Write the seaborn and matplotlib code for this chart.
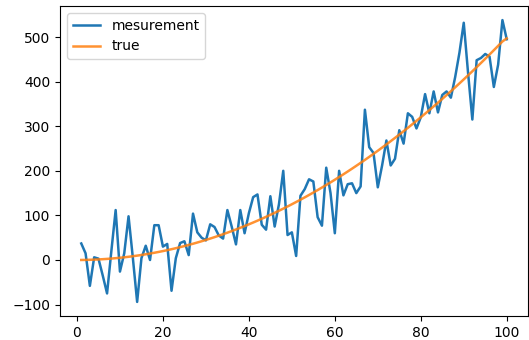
import matplotlib
matplotlib.use("Agg")
import matplotlib.pyplot as plt
import seaborn as sns
import numpy as np

x_vals = list(range(1, 101))

measurement = [
    37, 15, -58, 6, 3, -35, -75, 20, 112, -26,
    15, 98, 5, -94, 4, 32, 0, 78, 78, 30,
    36, -69, 4, 38, 42, 11, 104, 62, 50, 44,
    80, 74, 55, 48, 112, 75, 35, 112, 60, 105,
    141, 147, 79, 68, 143, 75, 125, 200, 56, 62,
    9, 144, 159, 181, 176, 96, 77, 207, 150, 60,
    200, 145, 170, 172, 150, 165, 337, 253, 240, 163,
    212, 268, 212, 227, 291, 261, 329, 321, 295, 320,
    372, 329, 378, 331, 370, 378, 364, 410, 465, 532,
    420, 315, 448, 453, 462, 456, 388, 438, 538, 495,
]

true_vals = [
    0.05, 0.2, 0.45, 0.8, 1.25, 1.8, 2.45, 3.2, 4.05, 5.0,
    6.05, 7.2, 8.45, 9.8, 11.25, 12.8, 14.45, 16.2, 18.05, 20.0,
    22.05, 24.2, 26.45, 28.8, 31.25, 33.8, 36.45, 39.2, 42.05, 45.0,
    48.05, 51.2, 54.45, 57.8, 61.25, 64.8, 68.45, 72.2, 76.05, 80.0,
    84.05, 88.2, 92.45, 96.8, 101.25, 105.8, 110.45, 115.2, 120.05, 125.0,
    130.05, 135.2, 140.45, 145.8, 151.25, 156.8, 162.45, 168.2, 174.05, 180.0,
    186.05, 192.2, 198.45, 204.8, 211.25, 217.8, 224.45, 231.2, 238.05, 245.0,
    252.05, 259.2, 266.45, 273.8, 281.25, 288.8, 296.45, 304.2, 312.05, 320.0,
    328.05, 336.2, 344.45, 352.8, 361.25, 369.8, 378.45, 387.2, 396.05, 405.0,
    414.05, 423.2, 432.45, 441.8, 451.25, 460.8, 470.45, 480.2, 490.05, 497.0,
]

fig = plt.figure(figsize=(5.29, 3.40), dpi=100)
ax = fig.add_axes([60 / 529, 24 / 340, 468 / 529, 310 / 340])

sns.lineplot(x=x_vals, y=measurement, ax=ax, color="#1f77b4", label="mesurement", linewidth=1.8)
sns.lineplot(x=x_vals, y=true_vals, ax=ax, color="#ff7f0e", label="true", linewidth=1.8, alpha=0.85)

ax.set_xticks([0, 20, 40, 60, 80, 100])
ax.set_yticks([-100, 0, 100, 200, 300, 400, 500])
ax.tick_params(labelsize=10)
ax.legend(loc="upper left", fontsize=10)

fig.savefig("out.png", dpi=100)
